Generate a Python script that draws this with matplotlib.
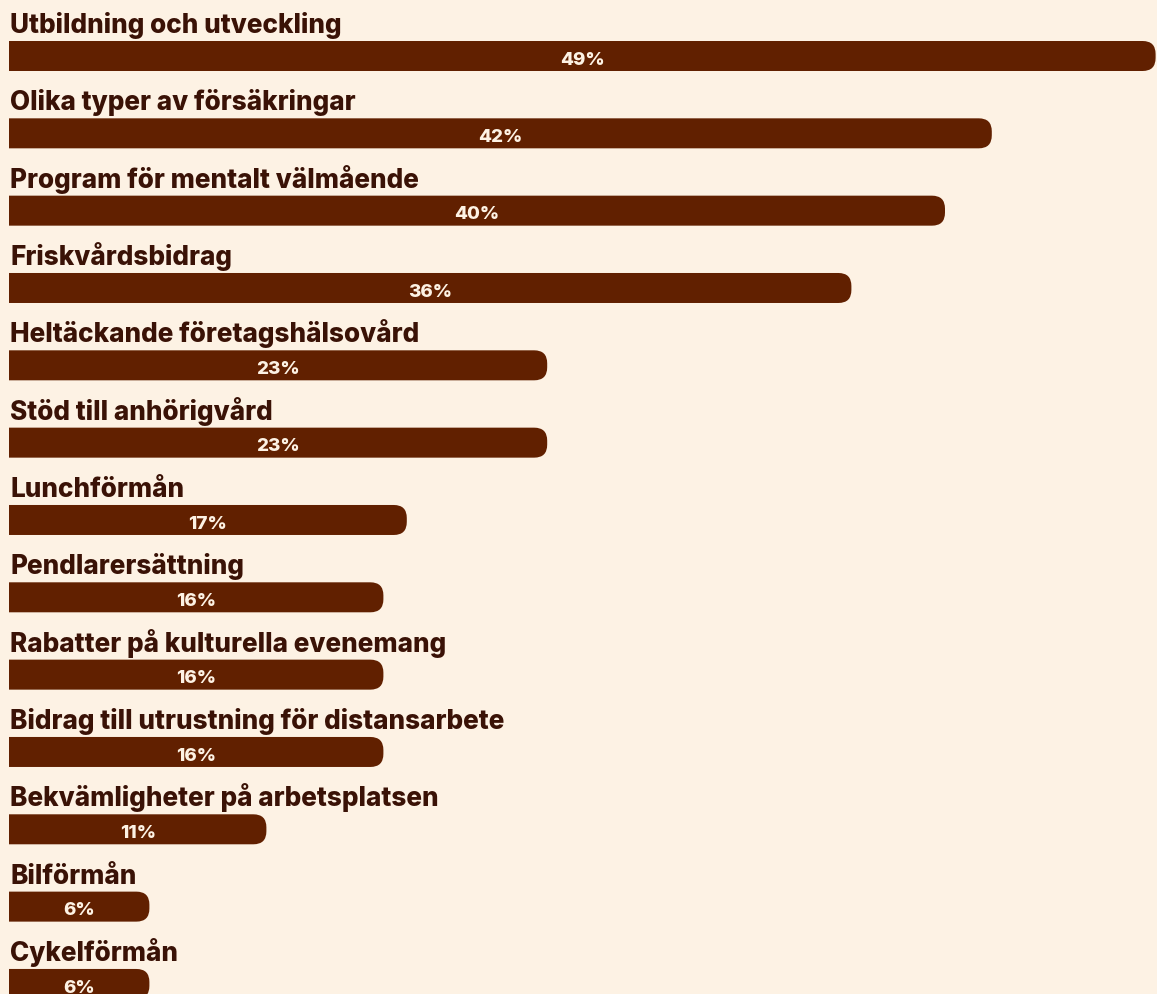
import matplotlib.pyplot as plt
from matplotlib.patches import FancyBboxPatch

categories = [
    "Utbildning och utveckling",
    "Olika typer av försäkringar",
    "Program för mentalt välmående",
    "Friskvårdsbidrag",
    "Heltäckande företagshälsovård",
    "Stöd till anhörigvård",
    "Lunchförmån",
    "Pendlarersättning",
    "Rabatter på kulturella evenemang",
    "Bidrag till utrustning för distansarbete",
    "Bekvämligheter på arbetsplatsen",
    "Bilförmån",
    "Cykelförmån",
]
values = [49, 42, 40, 36, 23, 23, 17, 16, 16, 16, 11, 6, 6]

BG = "#fdf2e4"
BAR = "#612000"
TEXT = "#3a1206"

W, H = 1157, 995
left_px = 9
px_per_pct = 23.4
row_px = 77.33
first_center_px = 57
bar_h_px = 30
radius_px = 13

fig = plt.figure(figsize=(W / 100, H / 100), dpi=100, facecolor=BG)
ax = fig.add_axes([left_px / W, 0, 1 - left_px / W, 1])
ax.set_facecolor(BG)
ax.set_xlim(0, (W - left_px) / px_per_pct)
top = -first_center_px / row_px
bottom = (H - first_center_px) / row_px
ax.set_ylim(bottom, top)
ax.axis("off")

bar_h = bar_h_px / row_px
aspect = (1 / row_px) / (1 / px_per_pct)
r = radius_px / px_per_pct

plt.rcParams["font.family"] = ["Inter", "DejaVu Sans"]

for i, (cat, v) in enumerate(zip(categories, values)):
    # start left of zero so the rounded left corners are clipped away
    x0 = -2
    box = FancyBboxPatch((x0, i - bar_h / 2), v - x0, bar_h,
                         boxstyle=f"round,pad=0,rounding_size={r}",
                         mutation_aspect=aspect,
                         facecolor=BAR, edgecolor="none")
    ax.add_patch(box)
    ax.text(1 / px_per_pct, i - 0.31, cat, ha="left", va="baseline",
            fontsize=18.8, fontweight="heavy", color=TEXT, clip_on=False)
    ax.text(v / 2, i + 0.04, f"{v}%", ha="center", va="center",
            fontsize=13.5, fontweight="heavy", color=BG)

fig.savefig("out.png", dpi=100, facecolor=BG)
